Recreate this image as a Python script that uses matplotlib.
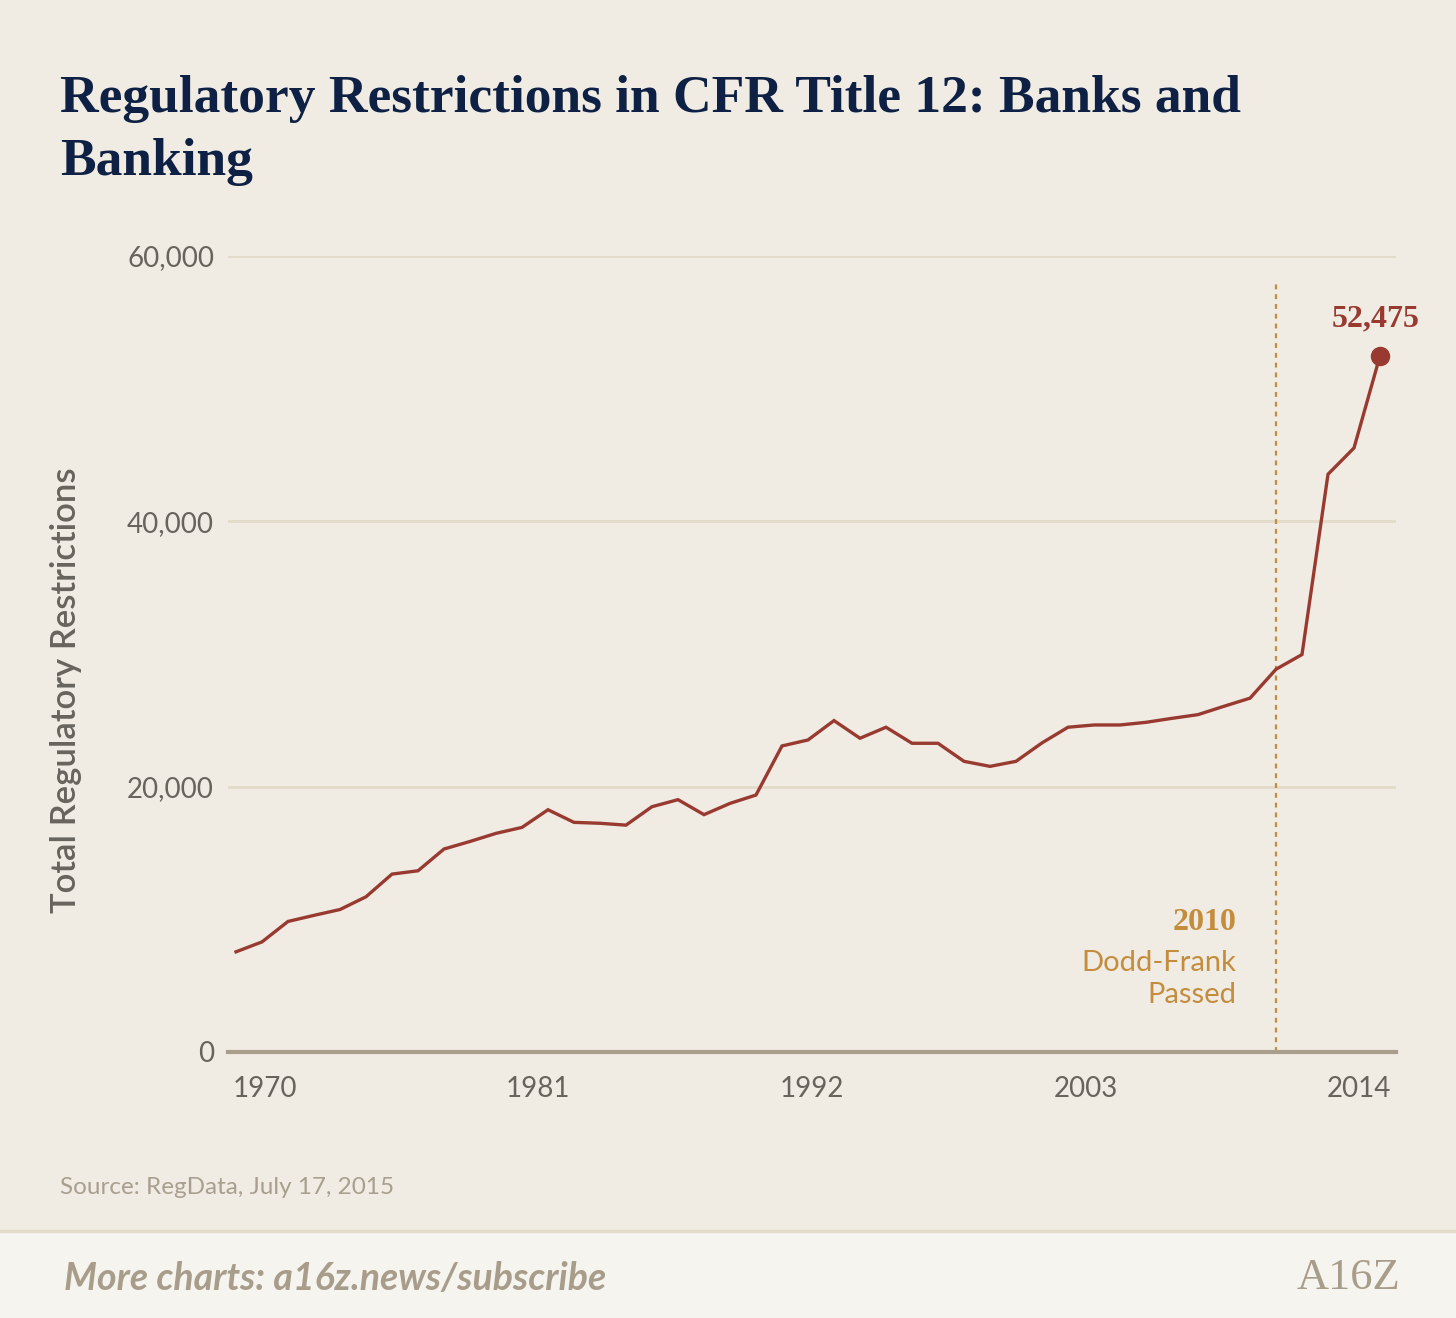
import matplotlib
matplotlib.use("Agg")
import matplotlib.pyplot as plt
from matplotlib.patches import Rectangle
from matplotlib.lines import Line2D
from matplotlib.transforms import offset_copy
import numpy as np

# ---- data ----
years = list(range(1970, 2015))
restrictions = [
    7550, 8300, 9840, 10300, 10740, 11700, 13410, 13660, 15300, 15870,
    16480, 16930, 18260, 17310, 17240, 17100, 18490, 19020, 17890, 18740,
    19370, 23070, 23520, 24980, 23650, 24480, 23270, 23270, 21910, 21530,
    21910, 23300, 24480, 24650, 24650, 24850, 25150, 25430, 26060, 26670,
    28850, 29960, 43550, 45530, 52475,
]
tick_labels = ["1970", "1981", "1992", "2003", "2014"]
y_ticks = [0, 20000, 40000, 60000]
y_tick_labels = ["0", "20,000", "40,000", "60,000"]
event_year = 2010
event_title = "2010"
event_text = "Dodd-Frank\nPassed"
title_lines = ["Regulatory Restrictions in CFR Title 12: Banks and", "Banking"]
y_label = "Total Regulatory Restrictions"
source = "Source: RegData, July 17, 2015"
footer = "More charts: a16z.news/subscribe"

# ---- style ----
BG = "#f0ece4"
FOOT_BG = "#f6f4ef"
NAVY = "#0e2144"
RED = "#993a31"
GOLD = "#c38d3d"
GRAY = "#67645e"
GRID = "#e2dbc9"
AXIS = "#a99e8b"
TAUPE = "#a89d8a"
SANS = ["Lato", "DejaVu Sans"]
SERIF = ["Liberation Serif", "DejaVu Serif"]

W, H = 1456, 1318
fig = plt.figure(figsize=(W / 100, H / 100), dpi=100, facecolor=BG)

# footer band
fig.patches.append(Rectangle((0, 0), 1, 86 / H, transform=fig.transFigure,
                             facecolor=FOOT_BG, edgecolor="none", zorder=0))
fig.lines.append(Line2D([0, 1], [87 / H, 87 / H], transform=fig.transFigure,
                        color="#e3dccb", lw=2.5, zorder=1))

left, right = 228 / W, 1396 / W
bottom, top = 1 - 1052 / H, 1 - 256 / H
ax = fig.add_axes([left, bottom, right - left, top - bottom])
ax.set_facecolor(BG)

ax.set_xlim(years[0] - 8 / 26, years[-1] + 16 / 26)
ax.set_ylim(0, 60000)

ax.set_yticks(y_ticks)
ax.set_yticklabels(y_tick_labels)
ax.grid(axis="y", color=GRID, lw=2, zorder=0)
ax.set_axisbelow(True)

# x tick labels spread evenly across the axis as in reference
xt = np.linspace(years[0] + 1.1, years[-1] - 0.8, len(tick_labels))
ax.set_xticks(xt)
ax.set_xticklabels(tick_labels)

for s in ["top", "right", "left"]:
    ax.spines[s].set_visible(False)
ax.spines["bottom"].set_color(AXIS)
ax.spines["bottom"].set_linewidth(3)
ax.spines["bottom"].set_zorder(5)
ax.tick_params(axis="both", length=0, colors=GRAY, labelsize=20)
ax.tick_params(axis="x", pad=17)
ax.tick_params(axis="y", pad=10)
for lab in ax.get_xticklabels() + ax.get_yticklabels():
    lab.set_family(SANS)

ax.set_ylabel(y_label, family=SANS, fontsize=25, color=GRAY,
              fontweight="semibold")
ax.yaxis.set_label_coords(-0.125, 0.454)

# event line and annotation
ax.axvline(event_year, ymin=0, ymax=0.97, color=GOLD, lw=1.6,
           linestyle=(0, (2.2, 2.2)), zorder=2)
trans = ax.get_xaxis_transform()
t_off = offset_copy(trans, fig=fig, x=-40, y=0, units="dots")
ax.text(event_year, (1051 - 922) / 795, event_title, transform=t_off,
        ha="right", va="center", fontsize=23, fontweight="bold",
        family=SERIF, color=GOLD)
ax.text(event_year, (1051 - 978) / 795, event_text, transform=t_off,
        ha="right", va="center", fontsize=21, family=SANS, color=GOLD,
        linespacing=1.3)

# main line
ax.plot(years, restrictions, color=RED, lw=2.4, zorder=4,
        solid_joinstyle="miter")
ax.plot(years[-1], restrictions[-1], "o", color=RED, ms=13, zorder=6,
        clip_on=False)
ax.annotate(f"{restrictions[-1]:,}", xy=(years[-1], restrictions[-1]),
            xytext=(-4, 37), textcoords="offset pixels",
            ha="center", va="center", fontsize=23, fontweight="bold",
            family=SERIF, color=RED, annotation_clip=False)

# title
for i, line in enumerate(title_lines):
    fig.text(60 / W, 1 - (112 + 63 * i) / H, line, ha="left",
             va="baseline", fontsize=38.5, fontweight="bold",
             family=SERIF, color=NAVY)

# source
fig.text(60 / W, 1 - 1188 / H, source, ha="left", va="center", fontsize=17.5,
         family=SANS, color="#a89f8f")

# footer text
fig.text(64 / W, 1 - 1278 / H, footer, ha="left", va="center", fontsize=27,
         family=SANS, color=TAUPE, fontstyle="italic", fontweight="bold")
fig.text(1400 / W, 1 - 1278 / H, "A16Z", ha="right", va="center",
         fontsize=32, family=SERIF, color=TAUPE)

fig.savefig("out.png", dpi=100, facecolor=BG)
